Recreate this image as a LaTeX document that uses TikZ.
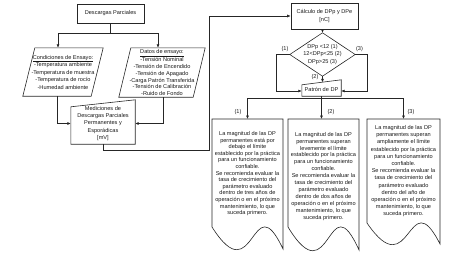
\documentclass[tikz,border=0pt]{standalone}
\usepackage{fontspec}
\setmainfont{Liberation Sans}
\usetikzlibrary{arrows.meta,calc}
\newcommand\docoutline[5]{%
  \draw[line] (#1,#3) -- (#2,#3) -- (#2,#5)
    .. controls ({#1+0.557*(#2-#1)},{#4-45*(#5-#4)/22}) and ({#1+0.606*(#2-#1)},{#4+68*(#5-#4)/22}) .. (#1,#4) -- cycle;}
\begin{document}
\begin{tikzpicture}[x=1pt,y=-1pt,
  line/.style={draw=black!85, line width=0.6pt},
  arr/.style={line, -{Latex[length=3.5pt,width=3pt]}},
  txt/.style={font=\fontsize{5.6}{6.8}\selectfont, align=center, inner sep=0pt, text=black!90},
  box/.style={txt, rectangle, line},
  lab/.style={font=\fontsize{5.6}{6.8}\selectfont, inner sep=0pt, text=black!90}]
\useasboundingbox (0,0) rectangle (450,252);

% left column
\node[box, minimum width=67pt, minimum height=19pt] (desc) at (110.5,13.5) {Descargas Parciales};

\node[txt, minimum width=68pt, minimum height=48pt, font=\fontsize{5.6}{7.5}\selectfont] (cond) at (63,72)
  {\underline{Condiciones de Ensayo:}\\-Temperatura ambiente\\-Temperatura de muestra\\-Temperatura de rocío\\-Humedad ambiente};
\draw[line] ([xshift=-6pt]cond.south west) -- ([xshift=-6pt]cond.south east) -- ([xshift=6pt]cond.north east) -- ([xshift=6pt]cond.north west) -- cycle;

\node[txt, minimum width=74pt, minimum height=49pt] (datos) at (162,72.5)
  {\underline{Datos de ensayo:}\\-Tensión Nominal\\-Tensión de Encendido\\-Tensión de Apagado\\-Carga Patrón Transferida\\-Tensión de Calibración\\-Ruido de Fondo};
\draw[line] ([xshift=-6pt]datos.south west) -- ([xshift=-6pt]datos.south east) -- ([xshift=6pt]datos.north east) -- ([xshift=6pt]datos.north west) -- cycle;

\node[txt, minimum width=64pt, minimum height=41pt, font=\fontsize{5.6}{7.3}\selectfont] (med) at (103,123.5)
  {Mediciones de\\Descargas Parciales\\Permanentes y\\Esporádicas\\{[mV]}};
\draw[line] (med.south west) -- (med.south east) -- ([yshift=3pt]med.north east) -- ([yshift=-4pt]med.north west) -- cycle;

\draw[arr] (desc.south) -- ++(0,10) -| ([xshift=-5pt]cond.north);
\draw[arr] (desc.south) -- ++(0,10) -| ([xshift=-4pt]datos.north);
\draw[arr] ([xshift=-6pt]cond.south) |- (med.west);
\draw[arr] ([xshift=1pt]datos.south) |- (med.east);
\coordinate (c1) at (209,150);

% right column
\node[box, minimum width=67pt, minimum height=26pt, font=\fontsize{5.6}{7.2}\selectfont] (calc) at (324.5,16) {Cálculo de DPp y DPe\\{[nC]}};
\draw[arr] (med.south) |- (c1) |- (calc.west);

\node[txt, minimum width=65pt, minimum height=43pt, font=\fontsize{5.6}{7.5}\selectfont] (dia) at (322.5,54.5)
  {DPp <12 (1)\\12<DPp<25 (2)\\DPp>25 (3)};
\draw[line] (dia.north) -- (dia.east) -- (dia.south) -- (dia.west) -- cycle;
\draw[arr] (calc.south -| dia.north) -- (dia.north);

\node[txt, minimum width=39pt, minimum height=13.5pt] (pat) at (321.5,89.25) {Patrón de DP};
\draw[line] (pat.south west) -- (pat.south east) -- ([yshift=2.5pt]pat.north east) -- ([yshift=-2.5pt]pat.north west) -- cycle;

\coordinate (l1) at (276,91);
\coordinate (r1) at (367,91);
\draw[arr] (dia.west) -| (l1) -- (l1 -| pat.west);
\draw[arr] (dia.east) -| (r1) -- (r1 -| pat.east);
\draw[arr] (dia.south) -- (dia.south |- pat.north);

\node[lab] (la1) at (285,49) {(1)};
\node[lab] (la3) at (359.5,49) {(3)};
\node[lab] (la2) at (315,77) {(2)};

% documents
\node[txt, anchor=north, minimum width=71pt, minimum height=109pt, font=\fontsize{5.6}{6.6}\selectfont] (d1) at (247.5,119)
  {La magnitud de las DP\\permanentes está por\\debajo el límite\\establecido por la práctica\\para un funcionamiento\\confiable.\\Se recomienda evaluar la\\tasa de crecimiento del\\parámetro evaluado\\dentro de tres años de\\operación o en el próximo\\mantenimiento, lo que\\suceda primero.};
\node[txt, anchor=north, minimum width=71pt, minimum height=114pt, font=\fontsize{5.6}{6.9}\selectfont] (d2) at (323.5,119)
  {La magnitud de las DP\\permanentes superan\\levemente el límite\\establecido por la práctica\\para un funcionamiento\\confiable.\\Se recomienda evaluar la\\tasa de crecimiento del\\parámetro evaluado\\dentro de dos años de\\operación o en el próximo\\mantenimiento, lo que\\suceda primero.};
\node[txt, anchor=north, minimum width=73pt, minimum height=104pt, font=\fontsize{5.6}{7.2}\selectfont] (d3) at (403.5,119)
  {La magnitud de las DP\\permanentes superan\\ampliamente el límite\\establecido por la práctica\\para un funcionamiento\\confiable.\\Se recomienda evaluar la\\tasa de crecimiento del\\parámetro evaluado\\dentro del año de\\operación o en el próximo\\mantenimiento, lo que\\suceda primero.};
\docoutline{212}{283}{119}{227}{249}
\docoutline{288}{359}{119}{227}{250}
\docoutline{367}{440}{119}{223}{244}

\coordinate (h) at (321.5,98);
\draw[line] (pat.south) -- (h);
\draw[arr] (h) -| (d1.north);
\draw[arr] (h) -- (h |- d2.north);
\draw[arr] (h) -| (d3.north);

\node[lab] (lb1) at (238,112.5) {(1)};
\node[lab] (lb2) at (331,112.5) {(2)};
\node[lab] (lb3) at (411,112.5) {(3)};
\end{tikzpicture}
\end{document}
